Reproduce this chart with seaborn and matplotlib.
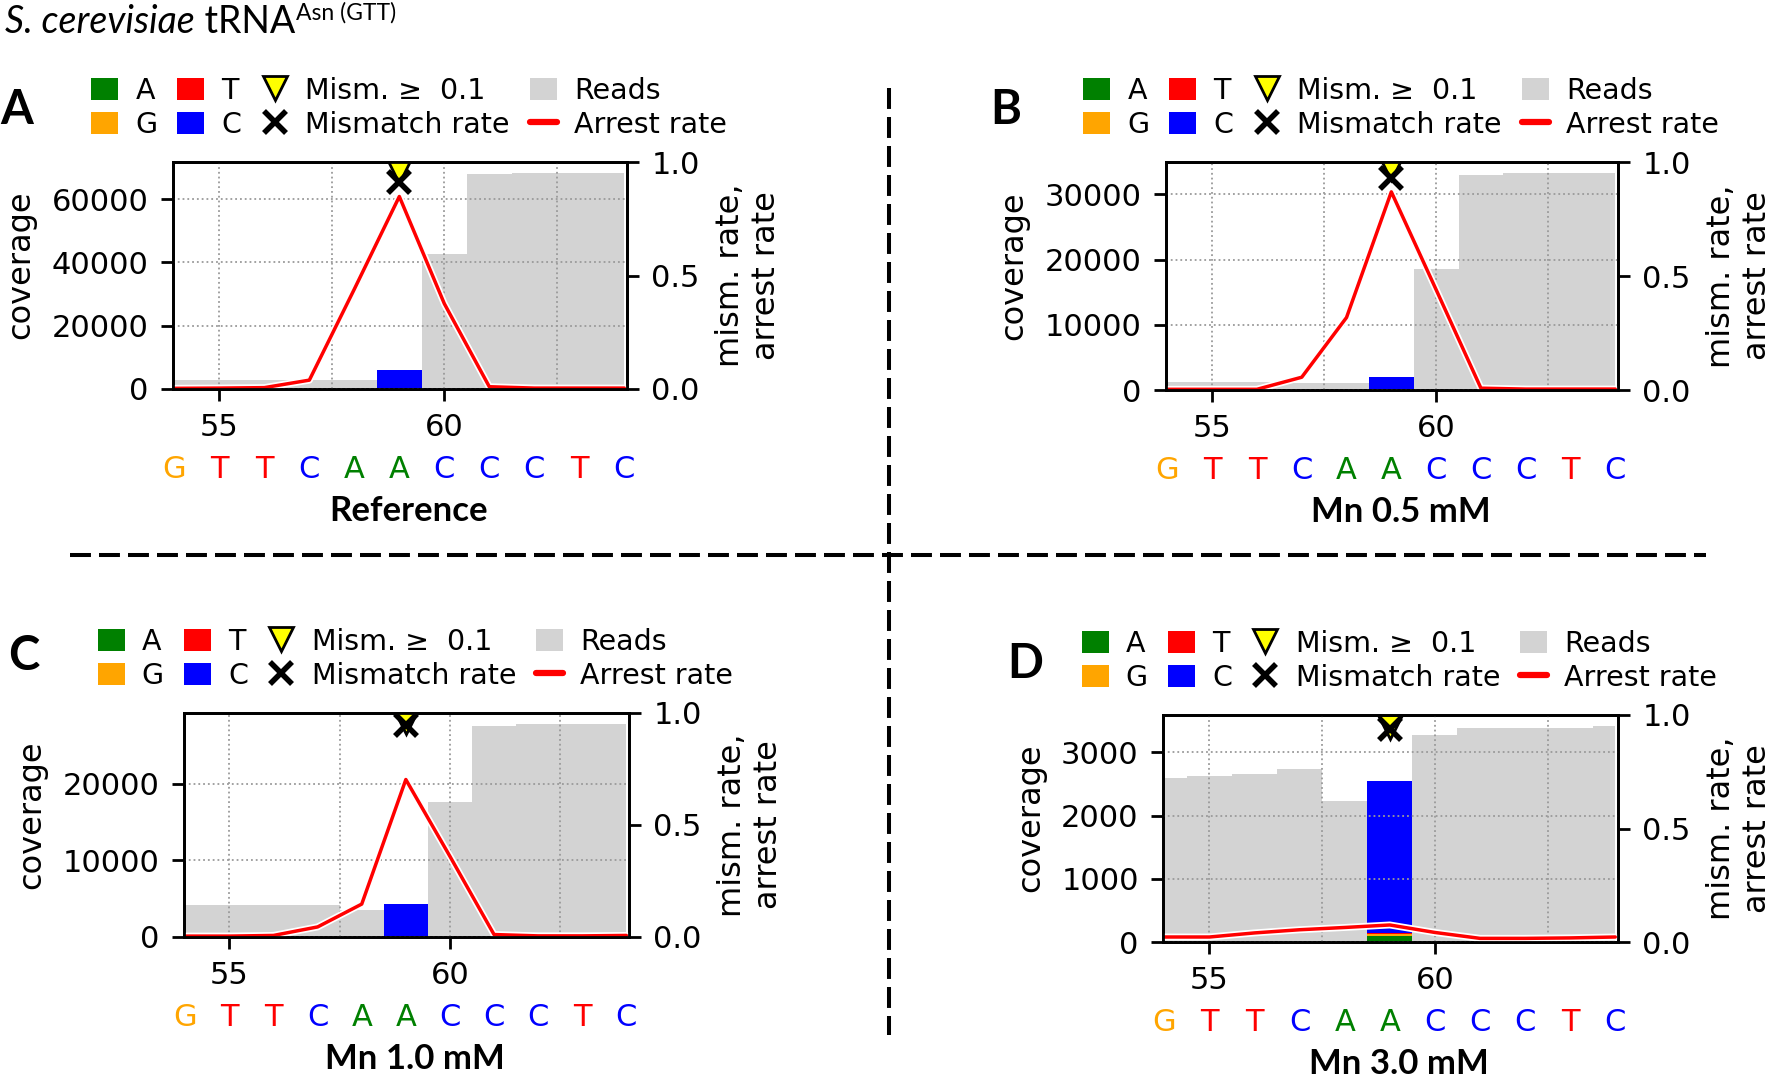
import matplotlib
matplotlib.use("Agg")
import matplotlib.pyplot as plt
import matplotlib.patheffects as pe
from matplotlib.patches import Patch
from matplotlib.lines import Line2D
import numpy as np
import seaborn as sns

# ---------------- data ----------------
positions = [54, 55, 56, 57, 58, 59, 60, 61, 62, 63, 64]
sequence = ["G", "T", "T", "C", "A", "A", "C", "C", "C", "T", "C"]

panel_letters = ["A", "B", "C", "D"]
panel_titles = ["Reference", "Mn 0.5 mM", "Mn 1.0 mM", "Mn 3.0 mM"]

reads_ref = [2900, 2900, 2900, 2800, 2800, 6000, 42500, 68000, 68300, 68300, 68300]
reads_mn05 = [1200, 1200, 1200, 1050, 1050, 1960, 18520, 33000, 33300, 33300, 33300]
reads_mn10 = [4200, 4200, 4220, 4220, 3560, 4350, 17700, 27620, 27800, 27800, 27870]
reads_mn30 = [2590, 2627, 2665, 2744, 2232, 2548, 3275, 3380, 3385, 3390, 3420]

# mismatch counts per base (A, G, T, C) at each position
mis_A_ref = [0, 0, 0, 0, 0, 60, 0, 0, 0, 0, 0]
mis_G_ref = [0, 0, 0, 0, 0, 40, 0, 0, 0, 0, 0]
mis_T_ref = [0, 0, 0, 0, 0, 0, 0, 0, 0, 0, 0]
mis_C_ref = [0, 0, 0, 0, 0, 5900, 0, 0, 0, 0, 0]

mis_A_mn05 = [0, 0, 0, 0, 0, 15, 0, 0, 0, 0, 0]
mis_G_mn05 = [0, 0, 0, 0, 0, 10, 0, 0, 0, 0, 0]
mis_T_mn05 = [0, 0, 0, 0, 0, 0, 0, 0, 0, 0, 0]
mis_C_mn05 = [0, 0, 0, 0, 0, 1935, 0, 0, 0, 0, 0]

mis_A_mn10 = [0, 0, 0, 0, 0, 30, 0, 0, 0, 0, 0]
mis_G_mn10 = [0, 0, 0, 0, 0, 60, 0, 0, 0, 0, 0]
mis_T_mn10 = [0, 0, 0, 0, 0, 20, 0, 0, 0, 0, 0]
mis_C_mn10 = [0, 0, 0, 0, 0, 4240, 0, 0, 0, 0, 0]

mis_A_mn30 = [0, 0, 0, 0, 0, 100, 0, 0, 0, 0, 0]
mis_G_mn30 = [0, 0, 0, 0, 0, 20, 0, 0, 0, 0, 0]
mis_T_mn30 = [0, 0, 0, 0, 0, 25, 0, 0, 0, 0, 0]
mis_C_mn30 = [0, 0, 0, 0, 0, 2403, 0, 0, 0, 0, 0]

arrest_ref = [0.003, 0.004, 0.006, 0.039, 0.44, 0.848, 0.376, 0.010, 0.004, 0.004, 0.004]
arrest_mn05 = [0.003, 0.003, 0.003, 0.056, 0.318, 0.869, 0.44, 0.008, 0.004, 0.004, 0.004]
arrest_mn10 = [0.004, 0.004, 0.007, 0.045, 0.147, 0.703, 0.36, 0.011, 0.005, 0.005, 0.007]
arrest_mn30 = [0.022, 0.022, 0.040, 0.054, 0.064, 0.075, 0.042, 0.016, 0.016, 0.018, 0.022]

mism_pos = [59]
mism_rate_ref = [0.91]
mism_rate_mn05 = [0.93]
mism_rate_mn10 = [0.945]
mism_rate_mn30 = [0.94]
flag_y_ref = [0.96]
flag_y_mn05 = [0.975]
flag_y_mn10 = [0.96]
flag_y_mn30 = [0.945]

yticks_ref = [0, 20000, 40000, 60000]
yticks_mn05 = [0, 10000, 20000, 30000]
yticks_mn10 = [0, 10000, 20000]
yticks_mn30 = [0, 1000, 2000, 3000]

# ---------------- style ----------------
sns.set_theme(style="ticks", rc={
    "axes.edgecolor": "black", "text.color": "black",
    "xtick.color": "black", "ytick.color": "black",
    "axes.labelcolor": "black", "axes.linewidth": 2.0,
})
plt.rcParams["font.family"] = ["DejaVu Sans"]

base_colors = {"A": "#008000", "G": "#FFA500", "T": "#FF0000", "C": "#0000FF"}
READ_COLOR = "#D3D3D3"

W, H = 1772, 1077
fig = plt.figure(figsize=(W / 100, H / 100), dpi=100)


def rect(l, t, r, b):
    return [l / W, 1 - b / H, (r - l) / W, (b - t) / H]


axes_px = [(173, 162, 627, 389), (1166, 162, 1618, 390),
           (184, 713, 629, 937), (1163, 715, 1618, 942)]
letter_px = [(17, 110), (1006, 110), (24, 656), (1025, 664)]

panels = [
    (reads_ref, [mis_A_ref, mis_G_ref, mis_T_ref, mis_C_ref], arrest_ref, mism_rate_ref, flag_y_ref, yticks_ref),
    (reads_mn05, [mis_A_mn05, mis_G_mn05, mis_T_mn05, mis_C_mn05], arrest_mn05, mism_rate_mn05, flag_y_mn05, yticks_mn05),
    (reads_mn10, [mis_A_mn10, mis_G_mn10, mis_T_mn10, mis_C_mn10], arrest_mn10, mism_rate_mn10, flag_y_mn10, yticks_mn10),
    (reads_mn30, [mis_A_mn30, mis_G_mn30, mis_T_mn30, mis_C_mn30], arrest_mn30, mism_rate_mn30, flag_y_mn30, yticks_mn30),
]

TICK_FS = 22
LABEL_FS = 23
LEG_FS = 20.5

for i, (reads, mis, arrest, mrate, flagy, yt) in enumerate(panels):
    l, t, r, b = axes_px[i]
    axw, axh = r - l, b - t
    ax = fig.add_axes(rect(l, t, r, b))
    ax.fill_between(positions, reads, step="mid", color=READ_COLOR, lw=0, zorder=1)
    bottom = np.zeros(len(positions))
    for base, vals in zip(["A", "G", "T", "C"], mis):
        ax.bar(positions, vals, bottom=bottom, width=1.0, color=base_colors[base],
               lw=0, zorder=2)
        bottom = bottom + np.array(vals)
    ax.set_xlim(53.97, 64.06)
    ax.set_ylim(0, max(reads) * 1.05)
    ax.set_yticks(yt)
    ax.set_xticks([55, 60])
    ax.set_xticks([57.5, 62.5], minor=True)
    ax.set_axisbelow(False)
    ax.grid(True, which="both", axis="x", ls=":", color="#9a9a9a", lw=1.3)
    ax.grid(True, which="major", axis="y", ls=":", color="#9a9a9a", lw=1.3)
    ax.tick_params(which="minor", length=0)
    ax.tick_params(which="major", labelsize=TICK_FS, length=8.5, width=2, pad=9,
                   bottom=True, left=True)
    for s in ax.spines.values():
        s.set_visible(True)
        s.set_linewidth(2)
        s.set_color("black")
    ax.set_ylabel("coverage", fontsize=LABEL_FS, labelpad=11)
    ax.yaxis.label.set_y(0.546)

    ax2 = ax.twinx()
    ax2.set_ylim(0, 1.0)
    ax2.set_yticks([0.0, 0.5, 1.0])
    ax2.set_yticklabels(["0.0", "0.5", "1.0"])
    ax2.tick_params(which="major", labelsize=TICK_FS, length=8.5, width=2, pad=9,
                    right=True)
    ax2.grid(False)
    sns.lineplot(x=positions, y=arrest, ax=ax2, color="red", linewidth=2.5)
    ln = ax2.lines[-1]
    ln.set_path_effects([pe.Stroke(linewidth=5, foreground="white"), pe.Normal()])
    ax2.plot(mism_pos, flagy, ls="none", marker="v", ms=17, mfc="yellow",
             mec="black", mew=2)
    ax2.plot(mism_pos, mrate, ls="none", marker="x", ms=16, mec="black", mew=4)
    ax2.set_ylabel("mism. rate,\narrest rate", fontsize=LABEL_FS, labelpad=11,
                   multialignment="center")

    # sequence letters under the x axis
    for p, s in zip(positions, sequence):
        ax.annotate(s, xy=(p, 0), xycoords=("data", "axes fraction"),
                    xytext=(0, -89 * 0.72), textcoords="offset points",
                    ha="center", va="baseline", fontsize=22, color=base_colors[s],
                    annotation_clip=False)
    # panel subtitle
    ax.annotate(panel_titles[i], xy=(0.5, 0), xycoords="axes fraction",
                xytext=(6, -132 * 0.72), textcoords="offset points",
                ha="center", va="baseline", fontsize=25, fontweight="bold",
                family=["Lato", "DejaVu Sans"], annotation_clip=False)

    # legend
    handles = [
        Patch(color=base_colors["A"], lw=0), Patch(color=base_colors["G"], lw=0),
        Patch(color=base_colors["T"], lw=0), Patch(color=base_colors["C"], lw=0),
        Line2D([], [], ls="none", marker="v", ms=17, mfc="yellow", mec="black", mew=2),
        Line2D([], [], ls="none", marker="x", ms=16, mec="black", mew=4),
        Patch(color=READ_COLOR, lw=0),
        Line2D([], [], color="red", lw=4.5),
    ]
    labels = ["A", "G", "T", "C", "Mism. ≥  0.1", "Mismatch rate", "Reads", "Arrest rate"]
    ax2.legend(handles, labels, ncol=4, loc="lower center",
               bbox_to_anchor=(0.5 + 9 / axw, 1 + 23 / axh), bbox_transform=ax.transAxes,
               frameon=False, fontsize=LEG_FS, handlelength=0.95, handleheight=0.85,
               handletextpad=0.6, columnspacing=0.7, labelspacing=0.22, borderpad=0,
               borderaxespad=0)

    lx, ly = letter_px[i]
    fig.text(lx / W, 1 - ly / H, panel_letters[i], fontsize=34, fontweight="bold",
             family=["Lato", "DejaVu Sans"], ha="center", va="center")

# dashed separators
fig.add_artist(Line2D([70 / W, 1706 / W], [1 - 555 / H, 1 - 555 / H], transform=fig.transFigure,
                      color="black", lw=2.9, ls=(0, (5.2, 2.0))))
fig.add_artist(Line2D([889 / W, 889 / W], [1 - 88 / H, 1 - 1035 / H], transform=fig.transFigure,
                      color="black", lw=2.9, ls=(0, (5.2, 2.0))))

# title: S. cerevisiae tRNA^Asn (GTT)
t1 = fig.text(5 / W, 1 - 33 / H, "S. cerevisiae", fontsize=27, style="italic",
              family=["Lato", "DejaVu Sans"], ha="left", va="baseline")
fig.canvas.draw()
r_ = fig.canvas.get_renderer()
x1 = t1.get_window_extent(r_).x1
t2 = fig.text(x1 / W, 1 - 33 / H, " tRNA", fontsize=27,
              family=["Lato", "DejaVu Sans"], ha="left", va="baseline")
fig.canvas.draw()
x2 = t2.get_window_extent(r_).x1
fig.text((x2 + 1) / W, 1 - 20 / H, "Asn (GTT)", fontsize=16.5,
         family=["Lato", "DejaVu Sans"], ha="left", va="baseline")

fig.savefig("out.png", dpi=100)
